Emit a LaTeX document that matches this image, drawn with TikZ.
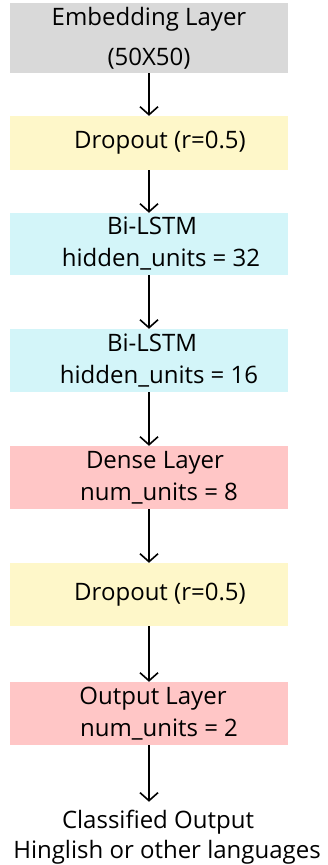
\documentclass[tikz,border=0pt]{standalone}
\usepackage{fontspec}
\setmainfont{Open Sans}
\usepackage{tikz}
\usetikzlibrary{arrows.meta}

\definecolor{embed_gray}{HTML}{D9D9D9}
\definecolor{drop_yellow}{HTML}{FEF7C9}
\definecolor{lstm_cyan}{HTML}{D3F5F9}
\definecolor{dense_pink}{HTML}{FFC6C6}

\begin{document}
\begin{tikzpicture}[x=1pt,y=1pt]
	\tikzstyle{layer} = [rectangle, minimum width=278pt, inner sep=0pt, align=center,
		font=\fontsize{24}{32}\selectfont]
	\tikzstyle{flow_arrow} = [draw=black, line width=1.6pt, -{Straight Barb[length=8pt,width=18pt,line width=1.6pt]}]

	\useasboundingbox (0,0) rectangle (328,-865);

%------------------------------------------------------------
	\node[layer, fill=embed_gray, minimum height=70pt] (embed) at (149,-38)
		{Embedding Layer\\[8pt](50X50)};

	\node[layer, fill=drop_yellow, minimum height=54pt] (drop1) at (149,-143)
		{\hspace*{22pt}Dropout (r=0.5)};

%------------------------------------------------------------

	\node[layer, fill=lstm_cyan, minimum height=62pt] (lstm1) at (149,-244)
		{\hspace*{6pt}Bi-LSTM\\\hspace*{24pt}hidden\_units = 32};

	\node[layer, fill=lstm_cyan, minimum height=63pt] (lstm2) at (149,-360.5)
		{\hspace*{6pt}Bi-LSTM\\\hspace*{20pt}hidden\_units = 16};

%------------------------------------------------------------

	\node[layer, fill=dense_pink, minimum height=63pt] (dense) at (149,-477.5)
		{\hspace*{12pt}Dense Layer\\\hspace*{20pt}num\_units = 8};

	\node[layer, fill=drop_yellow, minimum height=63pt] (drop2) at (149,-594.5)
		{\hspace*{22pt}Dropout (r=0.5)};

	\node[layer, fill=dense_pink, minimum height=63pt] (outlayer) at (149,-713.5)
		{\hspace*{8pt}Output Layer\\\hspace*{20pt}num\_units = 2};

%------------------------------------------------------------

	\node[align=center, inner sep=0pt, font=\fontsize{24}{30}\selectfont] (result) at (167,-837)
		{Classified Output\hspace*{18pt}\\Hinglish or other languages};

	\draw[flow_arrow] (embed) -- (drop1);
	\draw[flow_arrow] (drop1) -- (lstm1);
	\draw[flow_arrow] (lstm1) -- (lstm2);
	\draw[flow_arrow] (lstm2) -- (dense);
	\draw[flow_arrow] (dense) -- (drop2);
	\draw[flow_arrow] (drop2) -- (outlayer);
	\draw[flow_arrow] (outlayer.south) -- ([yshift=8pt]outlayer.south |- result.north);

\end{tikzpicture}
\end{document}
